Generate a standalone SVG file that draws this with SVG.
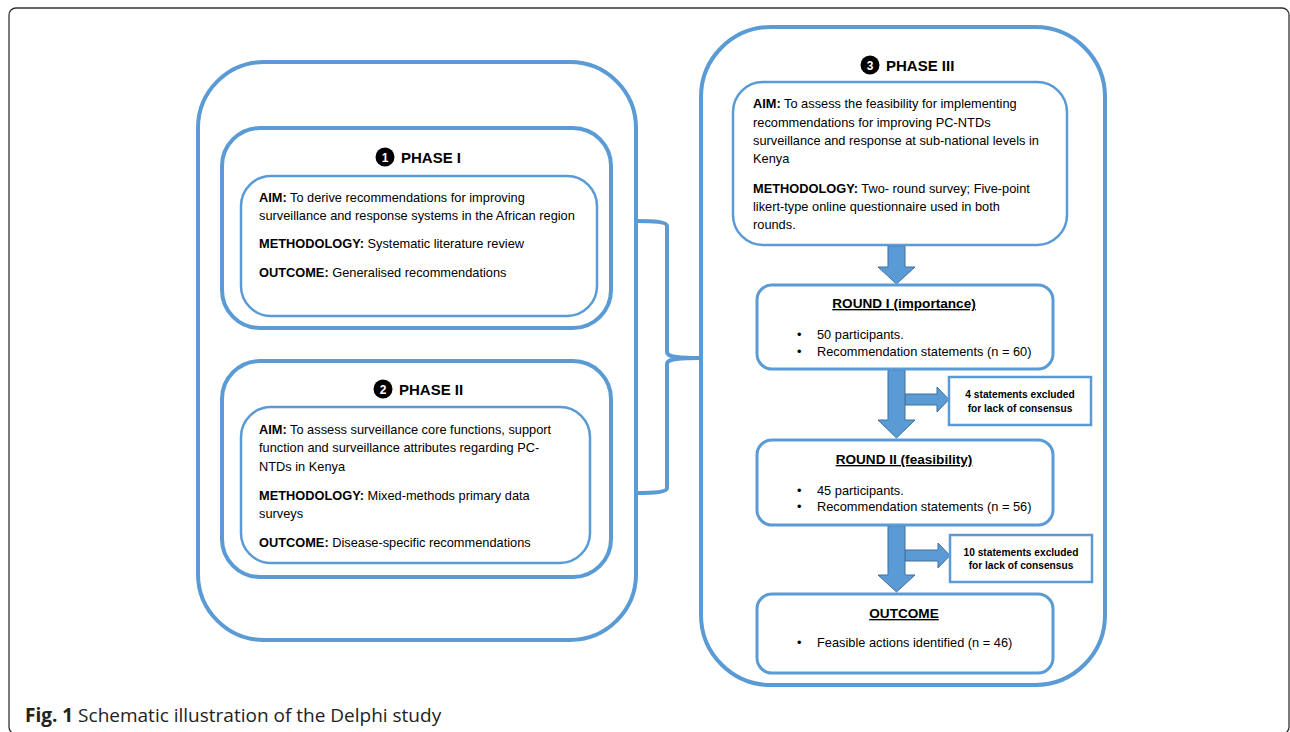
<svg xmlns="http://www.w3.org/2000/svg" width="1290" height="732" viewBox="0 0 1290 732">
<style>
.big{fill:none;stroke:#5B9BD5;stroke-width:4}
.inner{fill:#fff;stroke:#5B9BD5;stroke-width:2.5}
.rnd{fill:#fff;stroke:#5B9BD5;stroke-width:3}
.side{fill:#fff;stroke:#5B9BD5;stroke-width:2.5}
.arr{fill:#5B9BD5;stroke:#41719C;stroke-width:1}
text{font-family:"Liberation Sans",Arial,sans-serif;fill:#000}
.t{font-size:12.8px}
.b{font-weight:bold}
.hd{font-size:15px;font-weight:bold}
.num{font-size:12px;font-weight:bold;fill:#fff}
.tt{font-size:13.6px;font-weight:bold;text-decoration:underline}
.s{font-size:10.2px;font-weight:bold}
.cap{font-family:"Open Sans",sans-serif;font-size:19px;fill:#222}
</style>
<rect x="9" y="8" width="1280" height="726" rx="7" fill="#fff" stroke="#333" stroke-width="1.3"/>
<g id="phase12-container">
<rect class="big" x="198" y="62" width="438" height="578" rx="66"/>
</g>
<g id="phase1">
<rect class="big" x="222" y="128" width="389" height="200" rx="38"/>
<circle cx="385" cy="157" r="9.5" fill="#000"/>
<text class="num" x="385" y="161.5" text-anchor="middle">1</text>
<text class="hd" x="401" y="163">PHASE I</text>
<rect class="inner" x="241" y="176" width="356" height="140" rx="30"/>
<text class="t" x="259" y="202"><tspan class="b">AIM:</tspan> To derive recommendations for improving</text>
<text class="t" x="259" y="220">surveillance and response systems in the African region</text>
<text class="t" x="259" y="248"><tspan class="b">METHODOLOGY:</tspan> Systematic literature review</text>
<text class="t" x="259" y="277"><tspan class="b">OUTCOME:</tspan> Generalised recommendations</text>
</g>
<g id="phase2">
<rect class="big" x="222" y="361" width="389" height="216" rx="38"/>
<circle cx="383" cy="389" r="9.5" fill="#000"/>
<text class="num" x="383" y="393.5" text-anchor="middle">2</text>
<text class="hd" x="399" y="395">PHASE II</text>
<rect class="inner" x="241" y="407" width="349" height="156" rx="30"/>
<text class="t" x="259" y="434"><tspan class="b">AIM:</tspan> To assess surveillance core functions, support</text>
<text class="t" x="259" y="452">function and surveillance attributes regarding PC-</text>
<text class="t" x="259" y="471">NTDs in Kenya</text>
<text class="t" x="259" y="500"><tspan class="b">METHODOLOGY:</tspan> Mixed-methods primary data</text>
<text class="t" x="259" y="518">surveys</text>
<text class="t" x="259" y="547"><tspan class="b">OUTCOME:</tspan> Disease-specific recommendations</text>
</g>
<g id="connectors">
<path class="big" d="M636 221 C655 221 667 222 667 226 L667 352 C667 356 672 358 701 358 M701 358 C672 358 667 360 667 364 L667 488 C667 492 655 493 636 493"/>
<polygon class="arr" points="888,246 905,246 905,267 915,267 896.5,284 878,267 888,267"/>
<polygon class="arr" points="905,394 937,394 937,387 949,399.5 937,412 937,405 905,405"/>
<polygon class="arr" points="888,370 905,370 905,420 915,420 896.5,438 878,420 888,420"/>
<polygon class="arr" points="905,550 938,550 938,543 950,555.5 938,568 938,561 905,561"/>
<polygon class="arr" points="888,526 905,526 905,575 915,575 896.5,592 878,575 888,575"/>
</g>
<g id="phase3">
<rect class="big" x="701" y="27" width="404" height="658" rx="70"/>
<circle cx="870" cy="65" r="9.5" fill="#000"/>
<text class="num" x="870" y="69.5" text-anchor="middle">3</text>
<text class="hd" x="886" y="71">PHASE III</text>
</g>
<g id="phase3-aim">
<rect class="inner" x="733" y="82" width="334" height="163" rx="30"/>
<text class="t" x="753" y="108"><tspan class="b">AIM:</tspan> To assess the feasibility for implementing</text>
<text class="t" x="753" y="127">recommendations for improving PC-NTDs</text>
<text class="t" x="753" y="145">surveillance and response at sub-national levels in</text>
<text class="t" x="753" y="163">Kenya</text>
<text class="t" x="753" y="193"><tspan class="b">METHODOLOGY:</tspan> Two- round survey; Five-point</text>
<text class="t" x="753" y="211">likert-type online questionnaire used in both</text>
<text class="t" x="753" y="229">rounds.</text>
</g>
<g id="round1">
<rect class="rnd" x="757" y="285" width="296" height="84" rx="15"/>
<text class="tt" x="904" y="308" text-anchor="middle">ROUND I (importance)</text>
<text class="t" x="797" y="339">•</text>
<text class="t" x="817" y="339">50 participants.</text>
<text class="t" x="797" y="356">•</text>
<text class="t" x="817" y="356">Recommendation statements (n = 60)</text>
</g>
<g id="excluded1">
<rect class="side" x="949" y="377" width="142" height="48"/>
<text class="s" x="1020" y="398" text-anchor="middle">4 statements excluded</text>
<text class="s" x="1020" y="412" text-anchor="middle">for lack of consensus</text>
</g>
<g id="round2">
<rect class="rnd" x="757" y="440" width="296" height="85" rx="15"/>
<text class="tt" x="904" y="464" text-anchor="middle">ROUND II (feasibility)</text>
<text class="t" x="797" y="495">•</text>
<text class="t" x="817" y="495">45 participants.</text>
<text class="t" x="797" y="511">•</text>
<text class="t" x="817" y="511">Recommendation statements (n = 56)</text>
</g>
<g id="excluded2">
<rect class="side" x="950" y="535" width="142" height="47"/>
<text class="s" x="1021" y="556" text-anchor="middle">10 statements excluded</text>
<text class="s" x="1021" y="569" text-anchor="middle">for lack of consensus</text>
</g>
<g id="outcome">
<rect class="rnd" x="757" y="594" width="296" height="79" rx="15"/>
<text class="tt" x="904" y="618" text-anchor="middle">OUTCOME</text>
<text class="t" x="797" y="647">•</text>
<text class="t" x="817" y="647">Feasible actions identified  (n = 46)</text>
</g>
<g id="caption">
<text class="cap" x="25" y="722"><tspan font-weight="bold">Fig. 1</tspan> Schematic illustration of the Delphi study</text>
</g>
</svg>
